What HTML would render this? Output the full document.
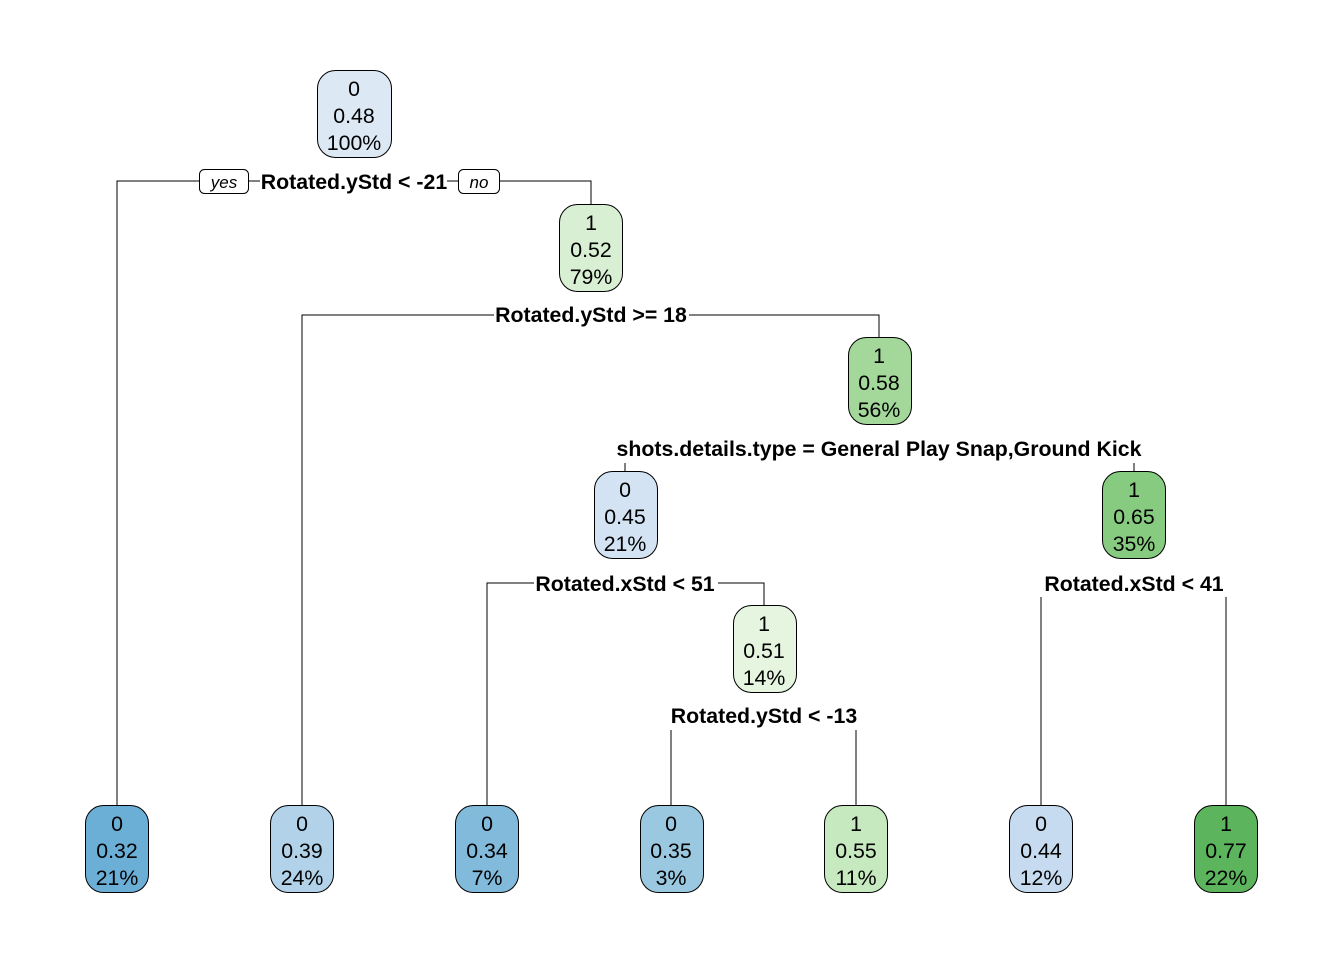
<!DOCTYPE html>
<html><head><meta charset="utf-8"><style>body{margin:0;background:#fff}svg{display:block}</style></head>
<body>
<svg width="1344" height="960" xmlns="http://www.w3.org/2000/svg" font-family="Liberation Sans, Arial, sans-serif">
<g stroke="#000" stroke-width="1" fill="none">
<path d="M117 805 V181 H200 M248 181 H260 M447 181 H459 M499 181 H591 V204"/>
<path d="M302 805 V315 H494 M689 315 H879 V337"/>
<path d="M625 463 V471 M1134 463 V471"/>
<path d="M487 805 V583 H534 M718 583 H764 V605"/>
<path d="M1041 597 V805 M1226 597 V805"/>
<path d="M671 730 V805 M856 730 V805"/>
</g>
<g stroke="#000" stroke-width="1">
<rect x="199.5" y="169.5" width="49" height="24" rx="5" fill="#fff"/>
<rect x="458.5" y="169.5" width="41" height="24" rx="5" fill="#fff"/>
</g>
<g font-style="italic" font-size="17" text-anchor="middle">
<text x="224" y="188">yes</text>
<text x="479" y="188">no</text>
</g>
<g font-weight="bold" font-size="21.3" text-anchor="middle">
<text x="354" y="189">Rotated.yStd &lt; -21</text>
<text x="591" y="322">Rotated.yStd &gt;= 18</text>
<text x="879" y="456">shots.details.type = General Play Snap,Ground Kick</text>
<text x="625" y="591">Rotated.xStd &lt; 51</text>
<text x="1134" y="591">Rotated.xStd &lt; 41</text>
<text x="764" y="723">Rotated.yStd &lt; -13</text>
</g>
<g stroke="#000" stroke-width="1">
<rect x="317.5" y="70.5" width="74" height="87" rx="18" fill="#dce9f5"/>
<rect x="559.5" y="204.5" width="63" height="87" rx="18" fill="#d9efd3"/>
<rect x="848.5" y="337.5" width="63" height="87" rx="18" fill="#a3d89a"/>
<rect x="594.5" y="471.5" width="63" height="87" rx="18" fill="#d3e3f3"/>
<rect x="1102.5" y="471.5" width="63" height="87" rx="18" fill="#87cb80"/>
<rect x="733.5" y="605.5" width="63" height="87" rx="18" fill="#e5f5e0"/>
<rect x="85.5" y="805.5" width="63" height="87" rx="18" fill="#6baed6"/>
<rect x="270.5" y="805.5" width="63" height="87" rx="18" fill="#b1d2e8"/>
<rect x="455.5" y="805.5" width="63" height="87" rx="18" fill="#82badb"/>
<rect x="640.5" y="805.5" width="63" height="87" rx="18" fill="#9ac8e0"/>
<rect x="824.5" y="805.5" width="63" height="87" rx="18" fill="#c7e9c0"/>
<rect x="1009.5" y="805.5" width="63" height="87" rx="18" fill="#c6dbef"/>
<rect x="1194.5" y="805.5" width="63" height="87" rx="18" fill="#5cb45c"/>
</g>
<g font-size="21.3" text-anchor="middle">
<text x="354" y="96">0</text><text x="354" y="123">0.48</text><text x="354" y="150">100%</text>
<text x="591" y="230">1</text><text x="591" y="257">0.52</text><text x="591" y="284">79%</text>
<text x="879" y="363">1</text><text x="879" y="390">0.58</text><text x="879" y="417">56%</text>
<text x="625" y="497">0</text><text x="625" y="524">0.45</text><text x="625" y="551">21%</text>
<text x="1134" y="497">1</text><text x="1134" y="524">0.65</text><text x="1134" y="551">35%</text>
<text x="764" y="631">1</text><text x="764" y="658">0.51</text><text x="764" y="685">14%</text>
<text x="117" y="831">0</text><text x="117" y="858">0.32</text><text x="117" y="885">21%</text>
<text x="302" y="831">0</text><text x="302" y="858">0.39</text><text x="302" y="885">24%</text>
<text x="487" y="831">0</text><text x="487" y="858">0.34</text><text x="487" y="885">7%</text>
<text x="671" y="831">0</text><text x="671" y="858">0.35</text><text x="671" y="885">3%</text>
<text x="856" y="831">1</text><text x="856" y="858">0.55</text><text x="856" y="885">11%</text>
<text x="1041" y="831">0</text><text x="1041" y="858">0.44</text><text x="1041" y="885">12%</text>
<text x="1226" y="831">1</text><text x="1226" y="858">0.77</text><text x="1226" y="885">22%</text>
</g>
</svg>
</body></html>
